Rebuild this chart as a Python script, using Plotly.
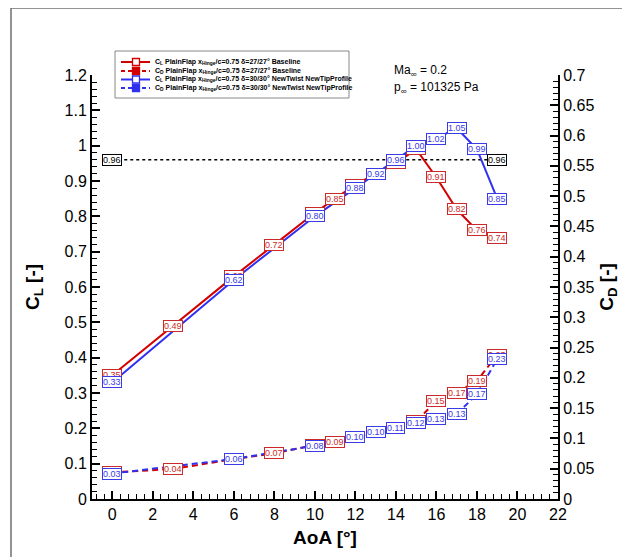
import plotly.graph_objects as go

# ---------------- data ----------------
aoa_base = [0, 3, 6, 8, 10, 11, 12, 13, 14, 15, 16, 17, 18, 19]
cl_base = [0.35, 0.49, 0.63, 0.72, 0.81, 0.85, 0.89, 0.92, 0.95, 0.99, 0.91, 0.82, 0.76, 0.74]
cd_base = [0.044, 0.0495, 0.066, 0.0754, 0.089, 0.0946, 0.103, 0.111, 0.118, 0.128, 0.162, 0.1755, 0.195, 0.238]
cd_base_labels = ["0.03", "0.04", "0.06", "0.07", "0.08", "0.09", "0.10", "0.11", "0.11", "0.12",
                  "0.15", "0.17", "0.19", "0.23"]

aoa_new = [0, 6, 10, 12, 13, 14, 15, 16, 17, 18, 19]
cl_new = [0.33, 0.62, 0.80, 0.88, 0.92, 0.96, 1.00, 1.02, 1.05, 0.99, 0.85]
cd_new = [0.042, 0.066, 0.088, 0.102, 0.110, 0.117, 0.125, 0.132, 0.140, 0.173, 0.231]
cd_new_labels = ["0.03", "0.06", "0.08", "0.10", "0.10", "0.11", "0.12", "0.13", "0.13", "0.17", "0.23"]

cl_ref = 0.96
ref_span = [0, 19]

legend_names = [
    "C<sub>L</sub> PlainFlap x<sub>Hinge</sub>/c=0.75 δ=27/27° Baseline",
    "C<sub>D</sub> PlainFlap x<sub>Hinge</sub>/c=0.75 δ=27/27° Baseline",
    "C<sub>L</sub> PlainFlap x<sub>Hinge</sub>/c=0.75 δ=30/30° NewTwist NewTipProfile",
    "C<sub>D</sub> PlainFlap x<sub>Hinge</sub>/c=0.75 δ=30/30° NewTwist NewTipProfile",
]

RED = "#d40000"
BLUE = "#3030f0"
RED_T = "#cc2a2a"
BLUE_T = "#3a3ae6"
FONT = "Liberation Sans"

# page offset (browser body margin) compensation
OFF = 8
W, H = 630 - OFF, 557 - OFF
# plot area in reference pixel coords
X0, X1, Y0, Y1 = 92, 558, 75, 499
PW, PH = X1 - X0, Y1 - Y0
L, T = X0 - OFF, Y0 - OFF
R, B = W - (X1 - OFF), H - (Y1 - OFF)


def px(x):
    return (x - X0) / PW


def py(y):
    return (Y1 - y) / PH


fig = go.Figure()

# reference line
fig.add_trace(go.Scatter(x=ref_span, y=[cl_ref, cl_ref], mode="lines",
                         line=dict(color="black", width=1.6, dash="dot"), showlegend=False))

# CL lines
fig.add_trace(go.Scatter(x=aoa_base, y=cl_base, mode="lines",
                         line=dict(color=RED, width=2), showlegend=False))
fig.add_trace(go.Scatter(x=aoa_new, y=cl_new, mode="lines",
                         line=dict(color=BLUE, width=2), showlegend=False))
# CD lines
fig.add_trace(go.Scatter(x=aoa_base, y=cd_base, mode="lines", yaxis="y2",
                         line=dict(color=RED, width=2, dash="6px,4px"), showlegend=False))
fig.add_trace(go.Scatter(x=aoa_new, y=cd_new, mode="lines", yaxis="y2",
                         line=dict(color=BLUE, width=2, dash="6px,4px"), showlegend=False))

annotations = []


def label(x, y, text, color, yref="y"):
    annotations.append(dict(x=x, y=y, xref="x", yref=yref, text=text, showarrow=False,
                            font=dict(family=FONT, size=9, color=color),
                            bgcolor="white", bordercolor=color, borderwidth=1,
                            borderpad=0, xanchor="center", yanchor="middle"))


for x, y in zip(aoa_base, cl_base):
    label(x, y, f"{y:.2f}", RED_T)
for x, y, t in zip(aoa_base, cd_base, cd_base_labels):
    label(x, y, t, RED_T, yref="y2")
for x, y in zip(aoa_new, cl_new):
    label(x, y, f"{y:.2f}", BLUE_T)
for x, y, t in zip(aoa_new, cd_new, cd_new_labels):
    label(x, y, t, BLUE_T, yref="y2")
for x in ref_span:
    label(x, cl_ref, f"{cl_ref:.2f}", "black")

# Ma / p text
annotations.append(dict(x=px(392), y=py(71), xref="paper", yref="paper", xanchor="left", yanchor="middle",
                        text="Ma<sub>∞</sub> = 0.2", showarrow=False,
                        font=dict(family=FONT, size=12, color="black")))
annotations.append(dict(x=px(392), y=py(88), xref="paper", yref="paper", xanchor="left", yanchor="middle",
                        text="p<sub>∞</sub> = 101325 Pa", showarrow=False,
                        font=dict(family=FONT, size=12, color="black")))

shapes = []
# outer frame
shapes.append(dict(type="rect", xref="paper", yref="paper", x0=px(11), x1=px(660), y0=py(600), y1=py(8),
                   line=dict(color="#707070", width=1.5), layer="below"))
# legend box
shapes.append(dict(type="rect", xref="paper", yref="paper", x0=px(115), x1=px(349), y0=py(98), y1=py(51),
                   line=dict(color="#888888", width=1), fillcolor="white"))
rows = [62, 71, 79.5, 88]
styles = [(RED, "solid", False), (RED, "dash", True), (BLUE, "solid", False), (BLUE, "dash", True)]
for yy, (col, dsh, filled), name in zip(rows, styles, legend_names):
    shapes.append(dict(type="line", xref="paper", yref="paper", x0=px(121), x1=px(150), y0=py(yy), y1=py(yy),
                       line=dict(color=col, width=2, dash="4px,3px" if dsh == "dash" else "solid")))
    shapes.append(dict(type="rect", xref="paper", yref="paper", x0=px(132.5), x1=px(139.5),
                       y0=py(yy + 3.5), y1=py(yy - 3.5),
                       line=dict(color=col, width=1.3), fillcolor=col if filled else "white"))
    annotations.append(dict(x=px(153), y=py(yy), xref="paper", yref="paper", xanchor="left", yanchor="middle",
                            text="<b>" + name + "</b>", showarrow=False,
                            font=dict(family=FONT, size=7, color="black")))

axis_common = dict(showgrid=False, zeroline=False, showline=True, linecolor="black", linewidth=2,
                   ticks="inside", tickcolor="black", tickwidth=2, ticklen=8,
                   tickfont=dict(family=FONT, size=16, color="black"))

fig.update_layout(
    width=W, height=H,
    margin=dict(l=L, r=R, t=T, b=B, autoexpand=False),
    paper_bgcolor="white", plot_bgcolor="white",
    showlegend=False,
    xaxis=dict(range=[-1, 22], tick0=0, dtick=2,
               minor=dict(ticks="inside", dtick=0.4, tick0=0, ticklen=5, tickwidth=1, tickcolor="black"),
               title=dict(text="<b>AoA [°]</b>", font=dict(family=FONT, size=19, color="black"), standoff=8),
               **axis_common),
    yaxis=dict(range=[0, 1.2], dtick=0.1, tick0=0,
               minor=dict(ticks="inside", dtick=0.02, tick0=0, ticklen=5, tickwidth=1, tickcolor="black"),
               title=dict(text="<b>C<sub>L</sub> [-]</b>", font=dict(family=FONT, size=19, color="black"), standoff=20),
               **axis_common),
    yaxis2=dict(range=[0, 0.7], dtick=0.05, tick0=0, overlaying="y", side="right",
                minor=dict(ticks="inside", dtick=0.01, tick0=0, ticklen=5, tickwidth=1, tickcolor="black"),
                title=dict(text="<b>C<sub>D</sub> [-]</b>", font=dict(family=FONT, size=19, color="black"), standoff=6),
                **axis_common),
    annotations=annotations,
    shapes=shapes,
)

fig.write_html("out.html")
